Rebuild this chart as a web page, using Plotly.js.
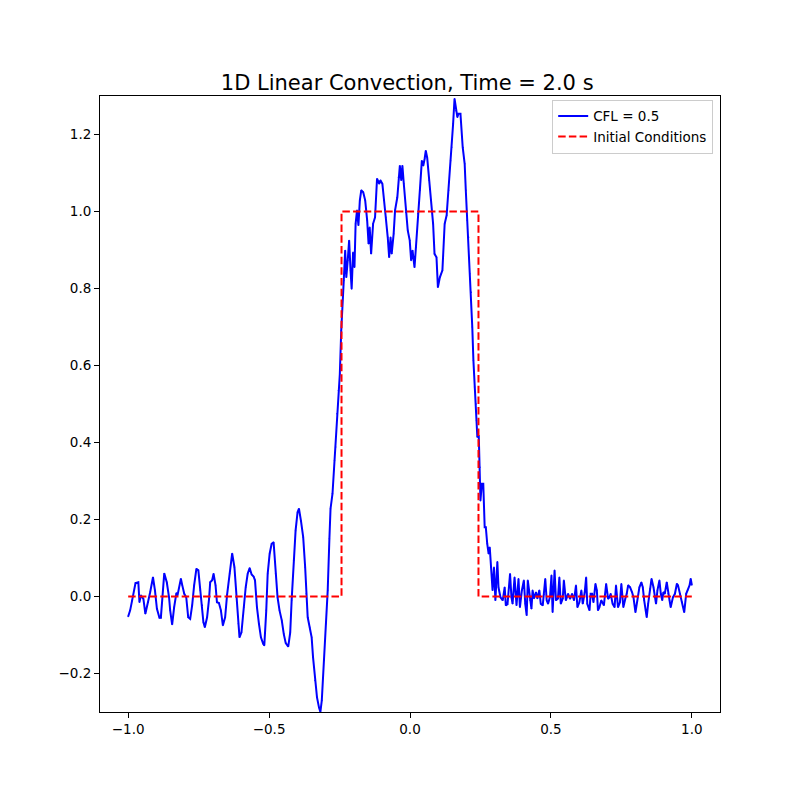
<!DOCTYPE html>
<html>
<head>
<meta charset="utf-8">
<script src="https://cdn.plot.ly/plotly-3.0.1.min.js"></script>
<style>
  html, body { margin: 0; padding: 0; background: #fff; }
  #chart { width: 800px; height: 800px; }
</style>
</head>
<body>
<div id="chart"></div>
<script>
// 1D linear convection snapshot: numerical solution (CFL = 0.5) at t = 2.0 s
// against the square-wave initial condition.

const TITLE = "1D Linear Convection, Time = 2.0 s";
const SOL_NAME = "CFL = 0.5";
const IC_NAME = "Initial Conditions";

// numerical solution u(x) at t = 2.0 s
const uX = [
  -1.0, -0.993, -0.986, -0.974, -0.964, -0.960, -0.955, -0.946, -0.939, -0.929,
  -0.922, -0.912, -0.905, -0.898, -0.889, -0.884, -0.872, -0.863, -0.855, -0.851,
  -0.844, -0.837, -0.829, -0.825, -0.813, -0.808, -0.801, -0.794, -0.787, -0.780,
  -0.773, -0.766, -0.758, -0.751, -0.744, -0.737, -0.733, -0.728, -0.720, -0.713,
  -0.709, -0.702, -0.697, -0.690, -0.685, -0.678, -0.671, -0.664, -0.656, -0.649,
  -0.640, -0.631, -0.623, -0.616, -0.609, -0.605, -0.598, -0.590, -0.583, -0.576,
  -0.569, -0.562, -0.555, -0.550, -0.543, -0.536, -0.529, -0.521, -0.517, -0.510,
  -0.505, -0.498, -0.491, -0.484, -0.477, -0.470, -0.463, -0.455, -0.448, -0.441,
  -0.432, -0.425, -0.420, -0.413, -0.406, -0.399, -0.394, -0.387, -0.379, -0.372,
  -0.368, -0.363, -0.356, -0.349, -0.344, -0.337, -0.330, -0.323, -0.318, -0.313,
  -0.306, -0.299, -0.292, -0.286, -0.282, -0.275, -0.268, -0.264, -0.259, -0.254,
  -0.249, -0.244, -0.240, -0.235, -0.230, -0.226, -0.221, -0.216, -0.211, -0.207,
  -0.202, -0.197, -0.193, -0.188, -0.183, -0.178, -0.173, -0.166, -0.159, -0.152,
  -0.147, -0.143, -0.138, -0.131, -0.124, -0.117, -0.109, -0.105, -0.098, -0.093,
  -0.086, -0.079, -0.074, -0.069, -0.065, -0.058, -0.053, -0.045, -0.041, -0.036,
  -0.031, -0.027, -0.022, -0.015, -0.008, -0.001, 0.004, 0.009, 0.016, 0.021,
  0.028, 0.035, 0.042, 0.047, 0.052, 0.056, 0.061, 0.068, 0.075, 0.082,
  0.087, 0.094, 0.099, 0.106, 0.115, 0.123, 0.130, 0.137, 0.144, 0.148,
  0.153, 0.158, 0.163, 0.168, 0.172, 0.179, 0.187, 0.194, 0.198, 0.203,
  0.208, 0.212, 0.217, 0.221, 0.225, 0.229, 0.234, 0.236, 0.239, 0.244,
  0.248, 0.250, 0.255, 0.260, 0.265, 0.269, 0.274, 0.279, 0.283, 0.288,
  0.293, 0.298, 0.303, 0.310, 0.314, 0.321, 0.329, 0.336, 0.340, 0.346,
  0.355, 0.360, 0.364, 0.371, 0.378, 0.385, 0.390, 0.397, 0.404, 0.409,
  0.414, 0.418, 0.426, 0.431, 0.435, 0.440, 0.447, 0.452, 0.459, 0.464,
  0.471, 0.475, 0.480, 0.485, 0.490, 0.497, 0.502, 0.506, 0.513, 0.518,
  0.525, 0.530, 0.535, 0.542, 0.546, 0.553, 0.561, 0.568, 0.575, 0.582,
  0.589, 0.594, 0.601, 0.608, 0.613, 0.620, 0.625, 0.629, 0.637, 0.641,
  0.646, 0.651, 0.658, 0.663, 0.667, 0.672, 0.679, 0.688, 0.696, 0.703,
  0.708, 0.712, 0.719, 0.726, 0.731, 0.738, 0.745, 0.750, 0.757, 0.764,
  0.769, 0.774, 0.781, 0.788, 0.793, 0.800, 0.807, 0.814, 0.821, 0.826,
  0.831, 0.836, 0.840, 0.845, 0.852, 0.857, 0.864, 0.869, 0.873, 0.878,
  0.885, 0.890, 0.895, 0.899, 0.904, 0.911, 0.916, 0.921, 0.925, 0.933,
  0.940, 0.947, 0.951, 0.958, 0.966, 0.973, 0.980, 0.985, 0.992, 0.996, 1.0,
];
const uY = [
  -0.052, -0.036, -0.010, 0.035, 0.037, -0.015, 0.003, -0.006, -0.045, -0.015,
  0.011, 0.050, 0.016, -0.032, -0.055, -0.055, 0.060, 0.037, -0.002, -0.036,
  -0.073, -0.028, 0.009, 0.003, 0.046, 0.029, 0.007, -0.002, -0.054, -0.058,
  -0.023, 0.029, 0.072, 0.068, 0.016, -0.023, -0.067, -0.080, -0.054, -0.006,
  0.037, 0.042, 0.059, 0.029, -0.015, -0.017, -0.036, -0.075, -0.054, 0.005,
  0.059, 0.112, 0.076, -0.002, -0.071, -0.106, -0.093, -0.028, 0.024, 0.059,
  0.074, 0.057, 0.052, 0.042, -0.028, -0.071, -0.106, -0.123, -0.127, -0.036,
  0.059, 0.111, 0.137, 0.141, 0.059, -0.002, -0.036, -0.062, -0.097, -0.121,
  -0.130, -0.093, -0.010, 0.094, 0.171, 0.219, 0.228, 0.197, 0.154, 0.076,
  0.007, -0.054, -0.080, -0.106, -0.158, -0.218, -0.262, -0.288, -0.300, -0.270,
  -0.166, -0.071, 0.016, 0.150, 0.228, 0.267, 0.353, 0.388, 0.475, 0.535,
  0.578, 0.691, 0.769, 0.821, 0.899, 0.829, 0.873, 0.925, 0.847, 0.799,
  0.894, 0.855, 0.968, 1.003, 0.964, 1.029, 1.055, 1.050, 1.029, 0.977,
  0.916, 0.959, 0.890, 0.968, 0.985, 1.085, 1.072, 1.081, 1.072, 1.029,
  0.985, 0.933, 0.881, 0.933, 0.890, 0.942, 1.003, 1.037, 1.089, 1.119,
  1.081, 1.119, 1.072, 0.998, 0.951, 0.925, 0.873, 0.899, 0.855, 0.907,
  0.994, 1.055, 1.132, 1.119, 1.137, 1.158, 1.140, 1.081, 1.029, 0.968,
  0.890, 0.881, 0.803, 0.829, 0.847, 0.968, 0.990, 1.055, 1.132, 1.167,
  1.228, 1.293, 1.262, 1.245, 1.254, 1.254, 1.167, 1.124, 1.055, 0.977,
  0.933, 0.838, 0.790, 0.700, 0.613, 0.544, 0.500, 0.457, 0.414, 0.418,
  0.336, 0.249, 0.293, 0.293, 0.180, 0.180, 0.137, 0.111, 0.128, 0.076,
  0.016, 0.076, -0.010, 0.090, 0.024, -0.002, -0.010, 0.024, -0.023, -0.020,
  0.059, -0.002, -0.019, 0.050, -0.023, 0.046, -0.028, 0.016, 0.042, -0.019,
  -0.049, 0.042, -0.010, -0.032, 0.016, -0.005, 0.011, -0.005, 0.016, -0.019,
  -0.023, 0.005, 0.046, -0.010, -0.019, 0.000, 0.055, -0.041, 0.068, -0.010,
  -0.005, 0.050, -0.019, -0.005, 0.042, -0.010, 0.007, -0.006, 0.007, -0.010,
  0.029, -0.028, -0.015, 0.016, -0.019, 0.011, 0.050, -0.019, -0.036, 0.007,
  0.007, -0.015, 0.033, 0.016, -0.036, -0.028, -0.010, -0.023, 0.033, -0.006,
  -0.002, 0.007, -0.019, -0.028, 0.029, -0.028, -0.015, 0.033, -0.028, -0.006,
  0.007, 0.029, 0.024, 0.011, -0.002, -0.041, -0.002, 0.024, 0.037, 0.024,
  -0.010, -0.036, -0.054, -0.019, 0.020, 0.046, 0.024, -0.002, -0.019, 0.016,
  0.042, 0.007, -0.010, 0.011, 0.007, 0.037, 0.007, -0.010, -0.028, -0.002,
  0.007, 0.033, 0.029, 0.007, -0.015, -0.041, 0.007, 0.016, 0.029, 0.046, 0.030,
];

// square-wave initial condition (corner points of the step)
const icX = [-1.0, -0.243, -0.243, 0.243, 0.243, 1.0];
const icY = [0, 0, 1, 1, 0, 0];

const xTicks = [-1.0, -0.5, 0.0, 0.5, 1.0];
const yTicks = [-0.2, 0.0, 0.2, 0.4, 0.6, 0.8, 1.0, 1.2];

const FONT = "DejaVu Sans, Liberation Sans, sans-serif";

const traces = [
  {
    type: "scatter",
    mode: "lines+markers",
    name: SOL_NAME,
    x: uX,
    y: uY,
    line: { color: "#0000ff", width: 2 },
    marker: { color: "#0000ff", size: 1.5 },
  },
  {
    type: "scatter",
    mode: "lines",
    name: IC_NAME,
    x: icX,
    y: icY,
    line: { color: "#ff0000", width: 2, dash: "7.5px,3.2px" },
  },
];

// shared axis look: thin black frame, outward ticks, no grid
const axisBase = {
  showgrid: false,
  zeroline: false,
  showline: true,
  mirror: true,
  linecolor: "#000",
  linewidth: 1,
  ticks: "outside",
  ticklen: 5,
  tickwidth: 1,
  tickcolor: "#000",
  tickformat: ".1f",
  tickfont: { family: FONT, size: 13.5, color: "#000" },
};

const layout = {
  width: 800,
  height: 800,
  paper_bgcolor: "#fff",
  plot_bgcolor: "#fff",
  margin: { l: 100, r: 80, t: 96, b: 88 },
  title: {
    text: TITLE,
    font: { family: FONT, size: 21, color: "#000" },
    x: 0.509,
    xanchor: "center",
    y: 0.897,
    yanchor: "middle",
  },
  xaxis: Object.assign({}, axisBase, { range: [-1.1, 1.1], tickvals: xTicks }),
  yaxis: Object.assign({}, axisBase, { range: [-0.3, 1.3], tickvals: yTicks }),
  showlegend: true,
  legend: {
    x: 0.989,
    y: 0.994,
    xanchor: "right",
    yanchor: "top",
    bgcolor: "rgba(255,255,255,0.8)",
    bordercolor: "#cccccc",
    borderwidth: 1,
    font: { family: FONT, size: 13.5, color: "#000" },
    tracegroupgap: 0,
  },
};

Plotly.newPlot("chart", traces, layout, { staticPlot: true, displayModeBar: false });
</script>
</body>
</html>
